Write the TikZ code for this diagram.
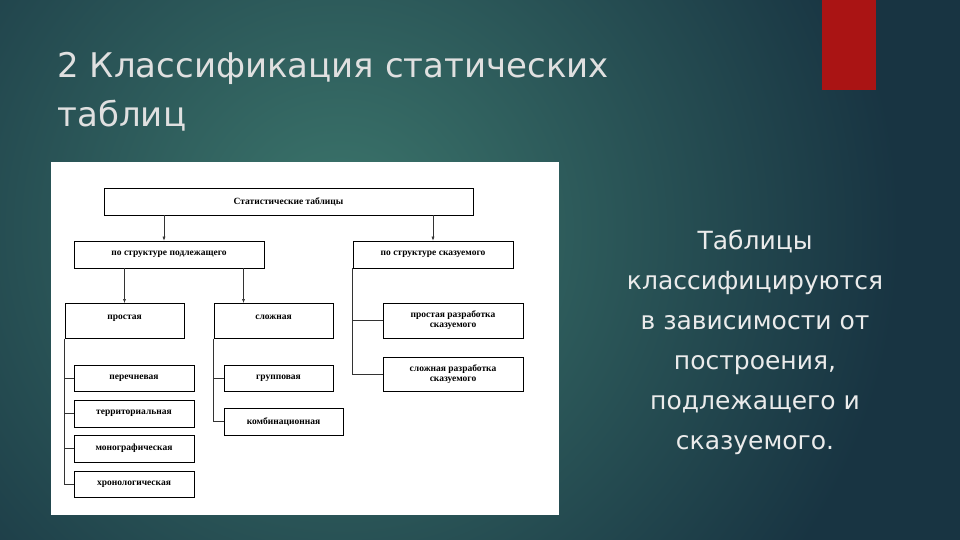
\documentclass[tikz,border=0pt]{standalone}
\usepackage{fontspec}
\setmainfont{Liberation Serif}
\newfontfamily\slidefont{DejaVu Sans}
\begin{document}
\begin{tikzpicture}[x=1pt,y=-1pt,
  bx/.style={draw=black,line width=0.6pt,fill=white,inner sep=0pt,font=\bfseries\fontsize{9.5}{10}\selectfont,align=center},
  ln/.style={draw=black!80,line width=0.5pt},
  ar/.style={ln,-{Latex[length=4pt,width=3pt]}}]
\usetikzlibrary{arrows.meta}
\useasboundingbox (0,0) rectangle (960,540);
\fill[color={rgb,255:red,24;green,52;blue,66}] (0,0) rectangle (960,540);
\shade[inner color={rgb,255:red,60;green,118;blue,108},outer color={rgb,255:red,24;green,52;blue,66}] (340,230) circle (560);
\fill[color={rgb,255:red,170;green,20;blue,20}] (822,0) rectangle (876,90);
\node[anchor=west,align=left,text=white!88!black,font=\slidefont\fontsize{34}{49}\selectfont] (title) at (54,92) {2 Классификация статических\\таблиц};
\node[align=center,text=white!92!black,font=\slidefont\fontsize{25}{40}\selectfont] (desc) at (755,342) {Таблицы\\классифицируются\\в зависимости от\\построения,\\подлежащего и\\сказуемого.};
\fill[white] (51,162) rectangle (559,515);
\node[bx,minimum width=369,minimum height=27] (top) at (288.5,201.5) {Статистические таблицы};
\node[bx,minimum width=190,minimum height=27] (sl) at (169,254.5) {по структуре подлежащего};
\node[bx,minimum width=160,minimum height=27] (sr) at (433,254.5) {по структуре сказуемого};
\node[bx,minimum width=119,minimum height=35,anchor=north] (pr) at (124.5,303) {\raisebox{8pt}{простая}};
\node[bx,minimum width=119,minimum height=35,anchor=north] (sz) at (273.5,303) {\raisebox{8pt}{сложная}};
\node[bx,minimum width=140,minimum height=35] (rp) at (453,320.5) {простая разработка\\сказуемого};
\node[bx,minimum width=140,minimum height=34] (rs) at (453,374) {сложная разработка\\сказуемого};
\node[bx,minimum width=120,minimum height=26] (l1) at (134,378) {перечневая};
\node[bx,minimum width=120,minimum height=27] (l2) at (134,413.5) {территориальная};
\node[bx,minimum width=120,minimum height=27] (l3) at (134,448.5) {монографическая};
\node[bx,minimum width=120,minimum height=26] (l4) at (134,484) {хронологическая};
\node[bx,minimum width=109,minimum height=26] (g1) at (278.5,378) {групповая};
\node[bx,minimum width=119,minimum height=27] (g2) at (283.5,421.5) {комбинационная};
\draw[ar] (top.south -| sl.north) ++(-5,0) coordinate (a1) -- (a1 |- sl.north);
\draw[ar] (top.south -| sr.north) coordinate (a2) -- (sr.north);
\draw[ar] (sl.south -| pr.north) coordinate (a3) -- (pr.north);
\draw[ar] (sl.south -| sz.north) ++(-30,0) coordinate (a4) -- (a4 |- sz.north);
\draw[ln] (pr.south west) -- (pr.south west |- l4.west) -- (l4.west);
\foreach \n in {l1,l2,l3} \draw[ln] (pr.south west |- \n.west) -- (\n.west);
\draw[ln] (sz.south west) -- (sz.south west |- g2.west) -- (g2.west);
\draw[ln] (sz.south west |- g1.west) -- (g1.west);
\draw[ln] (sr.south west) -- (sr.south west |- rs.west) -- (rs.west);
\draw[ln] (sr.south west |- rp.west) -- (rp.west);
\end{tikzpicture}
\end{document}
